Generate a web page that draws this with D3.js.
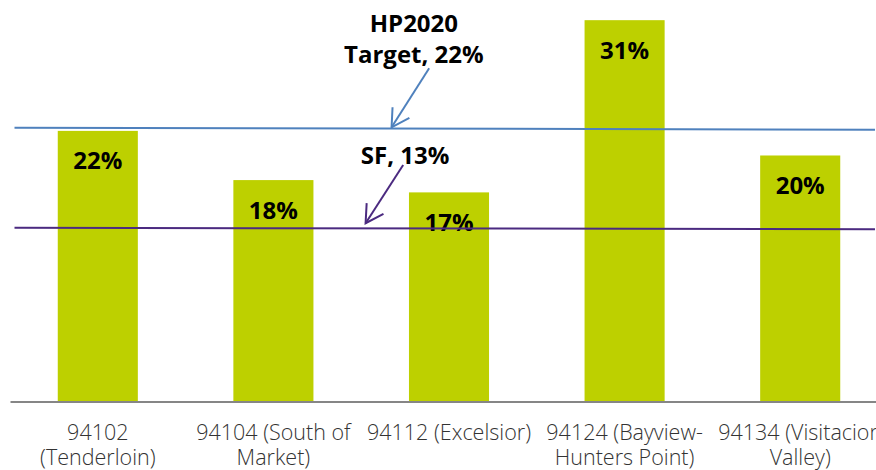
<!DOCTYPE html>
<html><head><meta charset="utf-8">
<script src="https://cdn.jsdelivr.net/npm/d3@7"></script>
<style>body{margin:0;background:#fff}svg{display:block}</style>
</head><body><svg id="c" width="876" height="470"></svg>
<script>
// ---- data ----
const categories = ["94102 (Tenderloin)", "94104 (South of Market)", "94112 (Excelsior)", "94124 (Bayview-Hunters Point)", "94134 (Visitacion Valley)"];
const tickLabelLines = [["94102", "(Tenderloin)"], ["94104 (South of", "Market)"], ["94112 (Excelsior)"], ["94124 (Bayview-", "Hunters Point)"], ["94134 (Visitacion", "Valley)"]];
const values = [22, 18, 17, 31, 20];
const valueLabels = ["22%", "18%", "17%", "31%", "20%"];
const refNames = ["HP2020 Target", "SF"];
const refValues = [22, 13];
const refLabelLines = [["HP2020", "Target, 22%"], ["SF, 13%"]];
// reference lines as drawn in the picture (value at left end, value at right end)
const refLineStart = [22.26, 14.13];
const refLineEnd = [22.1, 14.0];
// annotation anchors in data space (category index position, value)
const refLabelIndex = [1.80, 1.75];
const refLabelValue = [30.06, 19.28];
const arrowTailIndex = [1.887, 1.739];
const arrowTailValue = [27.09, 19.23];
const arrowTipIndex = [1.673, 1.525];
const arrowTipValue = [22.29, 14.49];

// ---- layout ----
const svg = d3.select("#c");
const x = d3.scaleBand().domain(categories).range([10, 888]).paddingInner(0.544).paddingOuter(0.272);
const y = d3.scaleLinear().domain([0, 32.64]).range([401.5, 0]);
const xi = d3.scaleLinear().domain([0, 1]).range([x(categories[0]) + x.bandwidth() / 2, x(categories[1]) + x.bandwidth() / 2]);
const refColors = ["#4f81bd", "#4b2a80"];
const barColor = "#bdd000";
const font = "'Open Sans', 'DejaVu Sans', sans-serif";

// bars
svg.append("g").selectAll("rect").data(values).join("rect")
  .attr("x", (d, i) => x(categories[i]))
  .attr("width", x.bandwidth())
  .attr("y", d => y(d))
  .attr("height", d => y(0) - y(d))
  .attr("fill", barColor);

// value labels
svg.append("g").selectAll("text").data(values).join("text")
  .attr("x", (d, i) => x(categories[i]) + x.bandwidth() / 2)
  .attr("y", d => y(d) + 38.5)
  .attr("text-anchor", "middle")
  .attr("font-family", font).attr("font-weight", 700).attr("font-size", 24)
  .attr("fill", "#000")
  .text((d, i) => valueLabels[i]);

// x axis
const ax = svg.append("g").attr("transform", `translate(0,${y(0)})`)
  .call(d3.axisBottom(x).tickSize(0).tickSizeOuter(0).tickFormat(""));
ax.select(".domain").attr("stroke", "#868686").attr("stroke-width", 2);
ax.selectAll(".tick").each(function (d, i) {
  const t = d3.select(this).append("text")
    .attr("text-anchor", "middle")
    .attr("font-family", font).attr("font-weight", 300).attr("font-size", 21.5)
    .attr("fill", "#333");
  tickLabelLines[i].forEach((ln, j) => {
    t.append("tspan").attr("x", 0).attr("y", 38.5 + j * 25).text(ln);
  });
});

// reference lines
const refLineX0 = 14.5, refLineX1 = 875;
svg.append("g").selectAll("line").data(refValues).join("line")
  .attr("x1", refLineX0).attr("x2", refLineX1)
  .attr("y1", (d, i) => y(refLineStart[i]))
  .attr("y2", (d, i) => y(refLineEnd[i]))
  .attr("stroke", (d, i) => refColors[i])
  .attr("stroke-width", 2);

// arrow markers
const defs = svg.append("defs");
refColors.forEach((c, i) => {
  defs.append("marker").attr("id", "arr" + i)
    .attr("markerUnits", "userSpaceOnUse")
    .attr("viewBox", "-20 -12 22 24")
    .attr("refX", 0).attr("refY", 0)
    .attr("markerWidth", 22).attr("markerHeight", 24)
    .attr("orient", "auto")
    .append("path").attr("d", "M-17.5,-10 L0,0 L-17.5,10")
    .attr("fill", "none").attr("stroke", c).attr("stroke-width", 2);
});

// arrows
svg.append("g").selectAll("line").data(refValues).join("line")
  .attr("x1", (d, i) => xi(arrowTailIndex[i]))
  .attr("y1", (d, i) => y(arrowTailValue[i]))
  .attr("x2", (d, i) => xi(arrowTipIndex[i]))
  .attr("y2", (d, i) => y(arrowTipValue[i]))
  .attr("stroke", (d, i) => refColors[i])
  .attr("stroke-width", 2)
  .attr("marker-end", (d, i) => `url(#arr${i})`);

// annotation labels
refValues.forEach((v, i) => {
  const t = svg.append("text")
    .attr("text-anchor", "middle")
    .attr("font-family", font).attr("font-weight", 700).attr("font-size", 24)
    .attr("fill", "#000");
  refLabelLines[i].forEach((ln, j) => {
    t.append("tspan").attr("x", xi(refLabelIndex[i]))
      .attr("y", y(refLabelValue[i]) + j * 31.6).text(ln);
  });
});
</script>
</body></html>
